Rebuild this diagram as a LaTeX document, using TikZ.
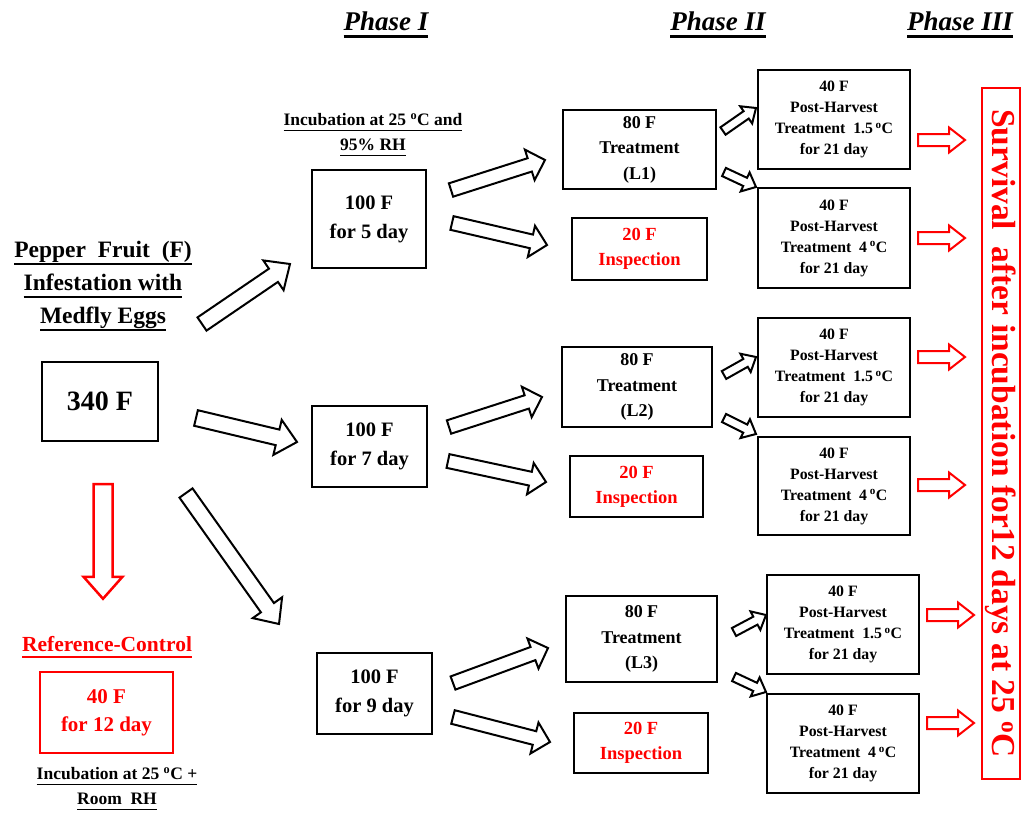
\documentclass[tikz,border=0pt]{standalone}
\usepackage{fontspec}
\setmainfont{Liberation Serif}
\usetikzlibrary{calc,positioning}

\newcommand{\fsz}[2]{\fontsize{#1}{#2}\selectfont\bfseries}
\newcommand{\degC}{\textsuperscript{o}C}
% underlined text, rule in the current colour
\newcommand{\hul}[1]{\setbox0\hbox{#1}\leavevmode\rlap{\rule[-0.25em]{\wd0}{0.1em}}\box0}
\newcommand{\lul}[1]{\setbox0\hbox{#1}\leavevmode\rlap{\rule[-0.32em]{\wd0}{0.08em}}\box0}

% hollow block arrow: [style]{tail}{tip}{half shaft}{half head}{head length}
\newcommand{\fatarrow}[6][]{%
  \draw[fat,#1] let \p1=(#2), \p2=(#3),
    \n1={atan2(\y2-\y1,\x2-\x1)}, \n2={veclen(\x2-\x1,\y2-\y1)-#6} in
    ($(\p1)+(\n1+90:#4)$) -- ($(\p1)+(\n1:\n2)+(\n1+90:#4)$)
    -- ($(\p1)+(\n1:\n2)+(\n1+90:#5)$) -- (\p2)
    -- ($(\p1)+(\n1:\n2)+(\n1-90:#5)$) -- ($(\p1)+(\n1:\n2)+(\n1-90:#4)$)
    -- ($(\p1)+(\n1-90:#4)$) -- cycle;}

\begin{document}
\begin{tikzpicture}[x=1pt, y=-1pt,
  box/.style={draw, line width=2pt, align=center, inner sep=0pt},
  redbox/.style={box, draw=red, text=red},
  lbl/.style={align=center, inner sep=0pt},
  fat/.style={draw, line width=2pt, fill=white},
  redfat/.style={draw=red, line width=2pt}]
\useasboundingbox (0,0) rectangle (1024,814);

% headings
\node[lbl, font=\fsz{27}{27}\itshape] (ph1) at (386,25) {\hul{Phase I}};
\node[lbl, font=\fsz{27}{27}\itshape] (ph2) at (718,25) {\hul{Phase II}};
\node[lbl, font=\fsz{27}{27}\itshape] (ph3) at (960,25) {\hul{Phase III}};

% start
\node[lbl, font=\fsz{23.5}{33}] (pepper) at (103,286)
  {\lul{Pepper\ \ Fruit\ \ (F)}\\\lul{Infestation with}\\\lul{Medfly Eggs}};
\node[box, minimum width=116, minimum height=79, font=\fsz{28}{28}] (n340) at (100,401.5) {340 F};

% control
\node[lbl, text=red, font=\fsz{21.5}{25}] (refc) at (107,647) {\lul{Reference-Control}};
\node[redbox, line width=2.5pt, minimum width=133, minimum height=81, font=\fsz{21}{28}] (ctrl) at (106.5,712.5) {40 F\\for 12 day};
\node[lbl, font=\fsz{17.5}{25}] (incB) at (117,789) {\lul{Incubation at 25 \degC{} +}\\\lul{Room\ \ RH}};

% phase I
\node[lbl, font=\fsz{17.5}{25}] (incA) at (373,135) {\lul{Incubation at 25 \degC{} and}\\\lul{95\% RH}};
\node[box, minimum width=114, minimum height=98, font=\fsz{20.5}{29}] (d5) at (369,219) {100 F\\for 5 day};
\node[box, minimum width=115, minimum height=81, font=\fsz{20.5}{29}] (d7) at (369.5,446.5) {100 F\\for 7 day};
\node[box, minimum width=115, minimum height=81, font=\fsz{20.5}{29}] (d9) at (374.5,693.5) {100 F\\for 9 day};

% phase II
\node[box, minimum width=153, minimum height=79, font=\fsz{18}{25.5}] (t1) at (639.5,149.5) {80 F\\Treatment\\(L1)};
\node[box, minimum width=150, minimum height=80, font=\fsz{18}{25.5}] (t2) at (637,387) {80 F\\Treatment\\(L2)};
\node[box, minimum width=151, minimum height=86, font=\fsz{18}{25.5}] (t3) at (641.5,639) {80 F\\Treatment\\(L3)};
\node[box, text=red, minimum width=135, minimum height=62, font=\fsz{18.5}{25}] (i1) at (639.5,249) {20 F\\Inspection};
\node[box, text=red, minimum width=133, minimum height=61, font=\fsz{18.5}{25}] (i2) at (636.5,486.5) {20 F\\Inspection};
\node[box, text=red, minimum width=134, minimum height=60, font=\fsz{18.5}{25}] (i3) at (641,743) {20 F\\Inspection};

% phase III
\node[box, minimum width=152, minimum height=99, font=\fsz{15.8}{21}] (p1) at (834,119.5) {40 F\\Post-Harvest\\Treatment\ \ 1.5\,\degC\\for 21 day};
\node[box, minimum width=152, minimum height=100, font=\fsz{15.8}{21}] (p2) at (834,238) {40 F\\Post-Harvest\\Treatment\ \ 4\,\degC\\for 21 day};
\node[box, minimum width=152, minimum height=99, font=\fsz{15.8}{21}] (p3) at (834,367.5) {40 F\\Post-Harvest\\Treatment\ \ 1.5\,\degC\\for 21 day};
\node[box, minimum width=152, minimum height=98, font=\fsz{15.8}{21}] (p4) at (834,486) {40 F\\Post-Harvest\\Treatment\ \ 4\,\degC\\for 21 day};
\node[box, minimum width=152, minimum height=99, font=\fsz{15.8}{21}] (p5) at (843,624.5) {40 F\\Post-Harvest\\Treatment\ \ 1.5\,\degC\\for 21 day};
\node[box, minimum width=152, minimum height=99, font=\fsz{15.8}{21}] (p6) at (843,743.5) {40 F\\Post-Harvest\\Treatment\ \ 4\,\degC\\for 21 day};

\node[draw=red, line width=1.5pt, text=red, rotate=-90, inner sep=0pt,
  minimum width=691, minimum height=38, font=\fsz{33.5}{33.5}] (surv) at (1001,433.5)
  {Survival\ \ after incubation for12 days at 25 \degC};

% arrows out of 340 F
\fatarrow{$(n340.north east)+(43,-37)$}{$(d5.west)+(-21,45)$}{8pt}{18pt}{20}
\fatarrow{$(n340.east)+(37,16.5)$}{$(d7.west)+(-14,-4.5)$}{8pt}{18pt}{20}
\fatarrow{$(n340.south east)+(27,51)$}{$(d9.north west)+(-37,-28)$}{8pt}{18pt}{20}
\fatarrow[redfat, line width=2.5pt]{$(n340.south)+(3,42)$}{$(ctrl.north)+(-3.5,-72)$}{9.5pt}{19.5pt}{22}

% phase I -> phase II
\fatarrow{$(d5.east)+(24,-29)$}{$(t1.west)+(-17,10.5)$}{7pt}{16pt}{16}
\fatarrow{$(d5.east)+(25,4)$}{$(i1.west)+(-24,-4)$}{7pt}{16pt}{16}
\fatarrow{$(d7.east)+(21,-19.5)$}{$(t2.west)+(-19,10)$}{7pt}{16pt}{16}
\fatarrow{$(d7.east)+(20,14.5)$}{$(i2.west)+(-23,-4.5)$}{7pt}{16pt}{16}
\fatarrow{$(d9.east)+(20,-10.5)$}{$(t3.west)+(-17,9)$}{7pt}{16pt}{16}
\fatarrow{$(d9.east)+(20,23.5)$}{$(i3.west)+(-23,-1)$}{7pt}{16pt}{16}

% phase II -> phase III
\fatarrow{$(t1.east)+(6,-18.5)$}{$(p1.west)+(-1,-11.5)$}{4.5pt}{10.5pt}{12}
\fatarrow{$(t1.east)+(7,22.5)$}{$(p2.north west)+(-1,0)$}{4.5pt}{10.5pt}{12}
\fatarrow{$(t2.east)+(11,-12)$}{$(p3.west)+(-1,-10.5)$}{4.5pt}{10.5pt}{12}
\fatarrow{$(t2.east)+(11,31)$}{$(p4.north west)+(-1,-2)$}{4.5pt}{10.5pt}{12}
\fatarrow{$(t3.east)+(16,-7)$}{$(p5.west)+(0,-9.5)$}{4.5pt}{10.5pt}{12}
\fatarrow{$(t3.east)+(16,38)$}{$(p6.north west)+(0,-1)$}{4.5pt}{10.5pt}{12}

% phase III -> survival
\fatarrow[redfat]{$(p1.east)+(7,20.5)$}{$(p1.east)+(54,20.5)$}{6pt}{12.5pt}{16}
\fatarrow[redfat]{$(p2.east)+(7,0)$}{$(p2.east)+(54,0)$}{6pt}{12.5pt}{16}
\fatarrow[redfat]{$(p3.east)+(7,-10.5)$}{$(p3.east)+(54,-10.5)$}{6pt}{12.5pt}{16}
\fatarrow[redfat]{$(p4.east)+(7,-1)$}{$(p4.east)+(54,-1)$}{6pt}{12.5pt}{16}
\fatarrow[redfat]{$(p5.east)+(7,-9.5)$}{$(p5.east)+(54,-9.5)$}{6pt}{12.5pt}{16}
\fatarrow[redfat]{$(p6.east)+(7,-20.5)$}{$(p6.east)+(54,-20.5)$}{6pt}{12.5pt}{16}
\end{tikzpicture}
\end{document}
